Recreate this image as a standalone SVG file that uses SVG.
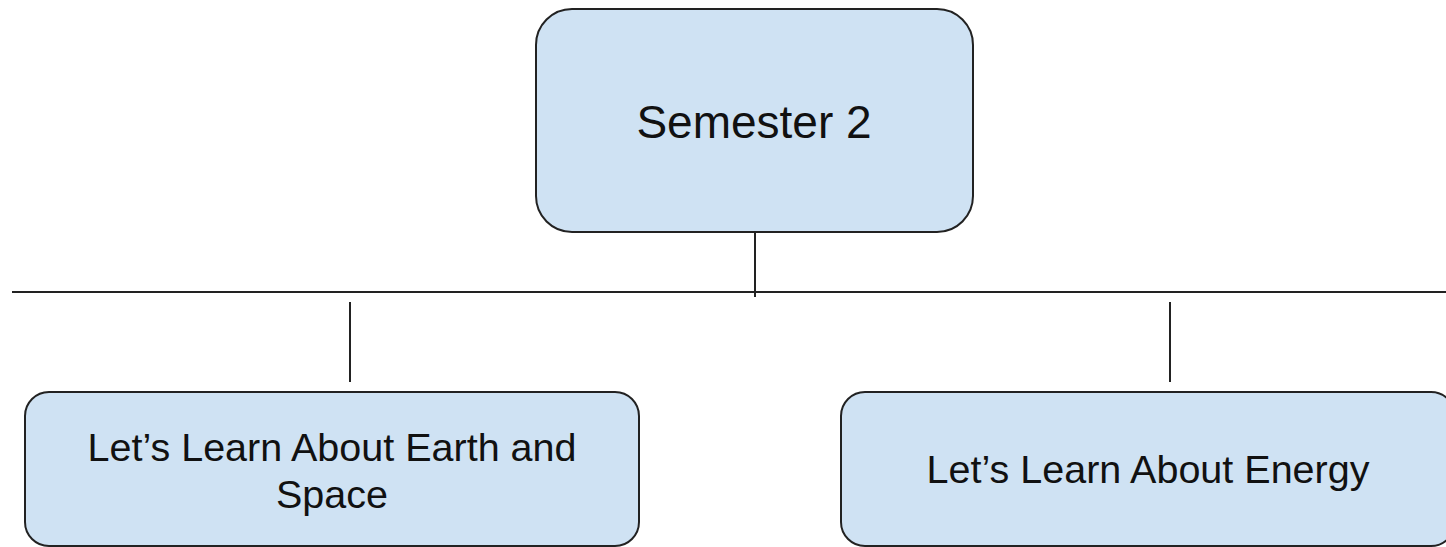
<svg xmlns="http://www.w3.org/2000/svg" width="1446" height="547" viewBox="0 0 1446 547">
<style>
.box{fill:#cfe2f3;stroke:#222;stroke-width:2}
.lbl{font-family:"Liberation Sans",Arial,sans-serif;fill:#111;text-anchor:middle}
.ln{stroke:#222;stroke-width:2;fill:none}
</style>
<rect width="1446" height="547" fill="#fff"/>
<g id="connectors">
<line class="ln" x1="755" y1="232" x2="755" y2="297"/>
<line class="ln" x1="12" y1="292" x2="1446" y2="292"/>
<line class="ln" x1="350" y1="302" x2="350" y2="382"/>
<line class="ln" x1="1170" y1="302" x2="1170" y2="382"/>
</g>
<g id="semester2">
<rect class="box" x="536" y="9" width="437" height="223" rx="36"/>
<text class="lbl" x="754" y="138" font-size="46">Semester 2</text>
</g>
<g id="earth-space">
<rect class="box" x="25" y="392" width="614" height="154" rx="24"/>
<text class="lbl" x="332" y="461" font-size="39.5">Let’s Learn About Earth and</text>
<text class="lbl" x="332" y="508" font-size="39.5">Space</text>
</g>
<g id="energy">
<rect class="box" x="841" y="392" width="614" height="154" rx="24"/>
<text class="lbl" x="1148" y="483" font-size="39.5">Let’s Learn About Energy</text>
</g>
</svg>
